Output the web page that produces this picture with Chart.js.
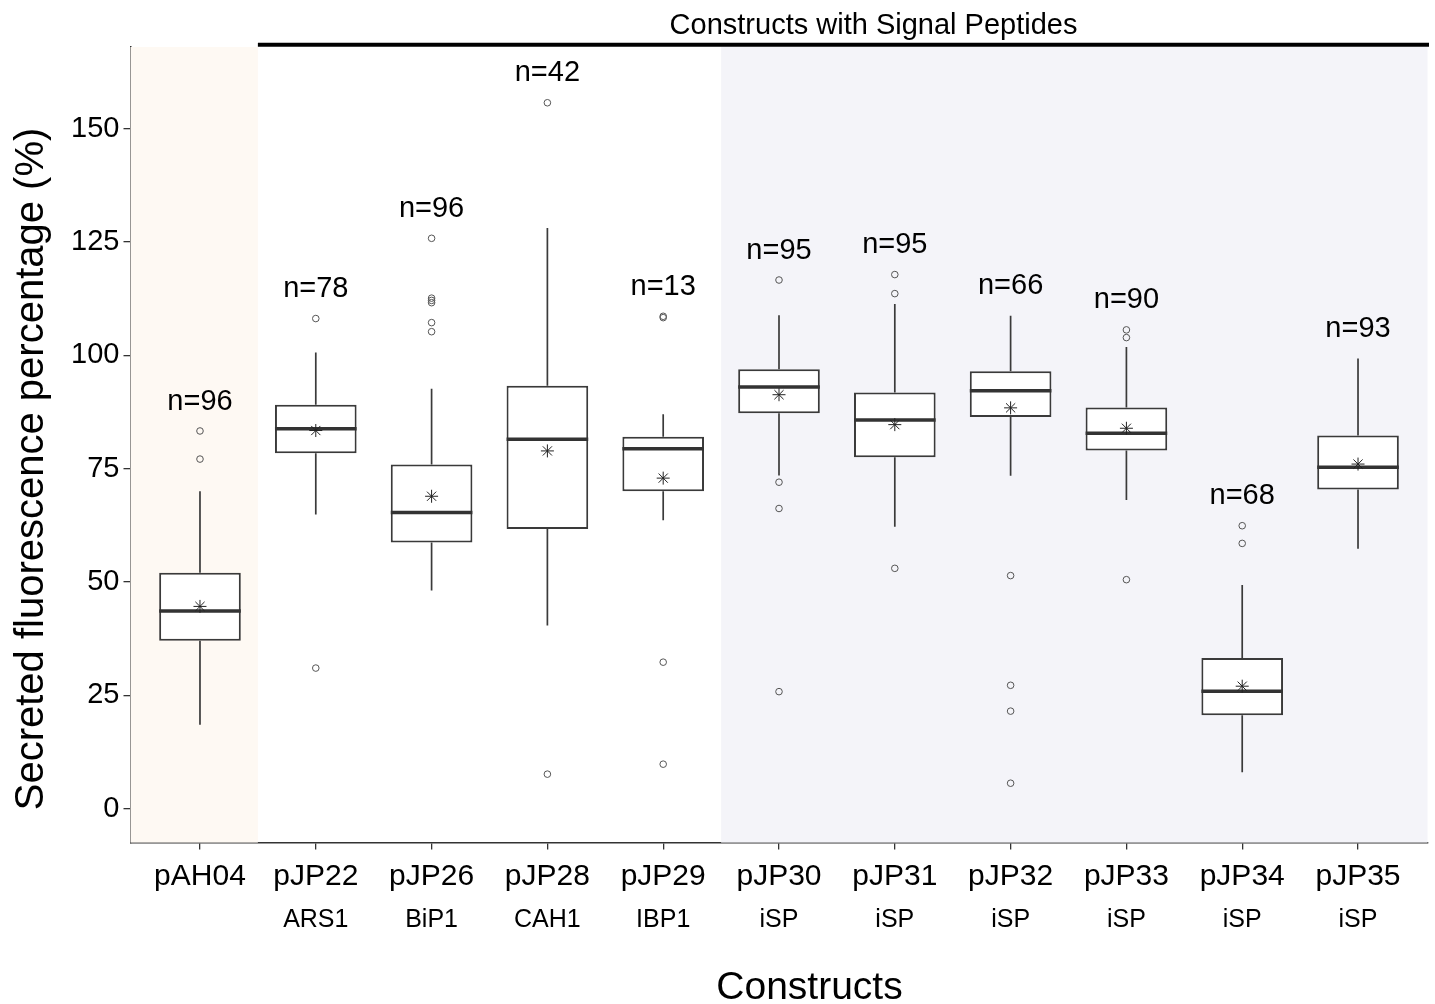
<!DOCTYPE html>
<html>
<head>
<meta charset="utf-8">
<script src="https://cdn.jsdelivr.net/npm/chart.js@4.4.1/dist/chart.umd.min.js"></script>
<style>
  html, body { margin: 0; padding: 0; background: #fff; }
  #boxChart { display: block; }
</style>
</head>
<body>
<canvas id="boxChart" width="1435" height="1004"></canvas>
<script>
// constructs on the x axis, with the signal peptide under each name
const constructs = ['pAH04', 'pJP22', 'pJP26', 'pJP28', 'pJP29', 'pJP30', 'pJP31', 'pJP32', 'pJP33', 'pJP34', 'pJP35'];
const signalPeptides = ['', 'ARS1', 'BiP1', 'CAH1', 'IBP1', 'iSP', 'iSP', 'iSP', 'iSP', 'iSP', 'iSP'];
const sampleSizes = [96, 78, 96, 42, 13, 95, 95, 66, 90, 68, 93];

// box plot summary (%)
const whiskerLow  = [18.5, 64.9, 48.1, 40.4, 63.6, 73.5, 62.2, 73.4, 68.1,  8.0, 57.3];
const q1          = [37.0, 78.4, 58.7, 61.7, 70.0, 87.2, 77.5, 86.4, 79.0, 20.6, 70.4];
const medians     = [43.6, 83.8, 65.3, 81.5, 79.4, 93.0, 85.7, 92.2, 82.8, 25.9, 75.3];
const q3          = [52.0, 89.1, 75.9, 93.3, 82.0, 96.9, 91.8, 96.5, 88.5, 33.2, 82.3];
const whiskerHigh = [70.0, 100.6, 92.6, 128.1, 87.0, 108.8, 111.3, 108.7, 101.8, 49.3, 99.3];
const means       = [44.6, 83.4, 68.9, 78.9, 72.9, 91.3, 84.7, 88.4, 83.9, 27.0, 76.0];
const outliers = [
    [83.3, 77.1],
    [108.1, 31.0],
    [125.8, 112.6, 112.1, 111.6, 107.2, 105.2],
    [155.7, 7.6],
    [108.6, 108.3, 32.3, 9.8],
    [116.6, 72.0, 66.2, 25.8],
    [117.8, 113.6, 53.0],
    [51.4, 27.2, 21.5, 5.6],
    [105.6, 103.9, 50.5],
    [62.4, 58.5],
    []
];

const yTicks = [0, 25, 50, 75, 100, 125, 150];

const FONT = '"Liberation Sans", Arial, Helvetica, sans-serif';
const BOX_FRACTION = 0.705;
const halfBox = BOX_FRACTION / 2;

// datasets built from the arrays above
const boxData = constructs.map((c, i) => ({ x: i, y: [q1[i], q3[i]] }));

const whiskerData = [];
constructs.forEach((c, i) => {
    whiskerData.push({ x: i, y: whiskerLow[i] }, { x: i, y: q1[i] }, { x: i, y: null });
    whiskerData.push({ x: i, y: q3[i] }, { x: i, y: whiskerHigh[i] }, { x: i, y: null });
});

const medianData = [];
constructs.forEach((c, i) => {
    medianData.push({ x: i - halfBox, y: medians[i] }, { x: i + halfBox, y: medians[i] }, { x: i, y: null });
});

const outlierData = [];
outliers.forEach((list, i) => list.forEach(v => outlierData.push({ x: i, y: v })));

const meanData = means.map((m, i) => ({ x: i, y: m }));

// shaded bands behind the boxes
const bandsPlugin = {
    id: 'bands',
    beforeDatasetsDraw(chart) {
        const { ctx, chartArea, scales } = chart;
        const x = scales.x;
        ctx.save();
        ctx.fillStyle = 'rgb(254, 249, 243)';
        ctx.fillRect(chartArea.left, chartArea.top, x.getPixelForValue(0.5) - chartArea.left, chartArea.bottom - chartArea.top);
        ctx.fillStyle = 'rgb(244, 244, 249)';
        const l = x.getPixelForValue(4.5);
        ctx.fillRect(l, chartArea.top, chartArea.right - l, chartArea.bottom - chartArea.top);
        ctx.restore();
    }
};

// n= labels, sub labels, titles and the bracket on top
const annotatePlugin = {
    id: 'annotate',
    afterDraw(chart) {
        const { ctx, chartArea, scales } = chart;
        const x = scales.x, y = scales.y;
        ctx.save();
        ctx.fillStyle = '#000';
        ctx.textAlign = 'center';

        ctx.font = '29px ' + FONT;
        ctx.textBaseline = 'middle';
        constructs.forEach((c, i) => {
            const top = Math.max(whiskerHigh[i], ...outliers[i]);
            ctx.fillText('n=' + sampleSizes[i], x.getPixelForValue(i), y.getPixelForValue(top + 6.5));
        });

        ctx.font = '25px ' + FONT;
        ctx.textBaseline = 'alphabetic';
        signalPeptides.forEach((s, i) => {
            if (s) ctx.fillText(s, x.getPixelForValue(i), 926.5);
        });

        // bracket over the signal peptide constructs
        ctx.strokeStyle = '#000';
        ctx.lineWidth = 4;
        ctx.beginPath();
        ctx.moveTo(x.getPixelForValue(0.5), 44.7);
        ctx.lineTo(chartArea.right + 1.5, 44.7);
        ctx.stroke();
        ctx.font = '29px ' + FONT;
        ctx.fillText('Constructs with Signal Peptides', 873.5, 33.5);

        // axis titles
        ctx.font = '39px ' + FONT;
        ctx.fillText('Constructs', 809.5, 999);
        ctx.translate(43, 469);
        ctx.rotate(-Math.PI / 2);
        ctx.font = '40px ' + FONT;
        ctx.fillText('Secreted fluorescence percentage (%)', 0, 0);
        ctx.restore();
    }
};

const ctx = document.getElementById('boxChart').getContext('2d');
new Chart(ctx, {
    type: 'bar',
    data: {
        datasets: [
            {
                type: 'line',
                data: whiskerData,
                borderColor: '#3a3a3a',
                borderWidth: 1.7,
                pointRadius: 0,
                spanGaps: false,
                order: 5
            },
            {
                type: 'bar',
                data: boxData,
                backgroundColor: '#ffffff',
                borderColor: '#3a3a3a',
                borderWidth: 2,
                borderSkipped: false,
                categoryPercentage: 1,
                barPercentage: BOX_FRACTION,
                order: 4
            },
            {
                type: 'line',
                data: medianData,
                borderColor: '#333333',
                borderWidth: 3.5,
                borderCapStyle: 'butt',
                pointRadius: 0,
                spanGaps: false,
                order: 3
            },
            {
                type: 'scatter',
                data: outlierData,
                pointStyle: 'circle',
                pointRadius: 3.3,
                borderColor: '#555555',
                borderWidth: 1,
                backgroundColor: 'rgba(0,0,0,0)',
                order: 2
            },
            {
                type: 'scatter',
                data: meanData,
                pointStyle: 'star',
                pointRadius: 6.5,
                borderColor: '#222222',
                borderWidth: 1,
                order: 1
            }
        ]
    },
    options: {
        responsive: false,
        animation: false,
        devicePixelRatio: 1,
        layout: { padding: { top: 47, right: 3.7, left: 0, bottom: 0 } },
        plugins: {
            legend: { display: false },
            tooltip: { enabled: false }
        },
        scales: {
            x: {
                type: 'linear',
                min: -0.6,
                max: 10.6,
                bounds: 'data',
                offset: false,
                afterBuildTicks: (scale) => { scale.ticks = constructs.map((c, i) => ({ value: i })); },
                afterFit: (scale) => { scale.height = 161.4; },
                ticks: {
                    autoSkip: false,
                    maxRotation: 0,
                    padding: 9,
                    color: '#000',
                    font: { family: FONT, size: 30 },
                    callback: (v) => constructs[v]
                },
                grid: { offset: false, drawOnChartArea: false, drawTicks: true, tickLength: 7, color: '#333', lineWidth: 1.3 },
                border: { display: true, color: '#333', width: 1.5 }
            },
            y: {
                type: 'linear',
                min: -7.5,
                max: 168,
                bounds: 'data',
                afterBuildTicks: (scale) => { scale.ticks = yTicks.map(v => ({ value: v })); },
                afterFit: (scale) => { scale.width = 130.5; },
                ticks: {
                    padding: 4,
                    color: '#000',
                    font: { family: FONT, size: 29 }
                },
                grid: { drawOnChartArea: false, drawTicks: true, tickLength: 7, color: '#333', lineWidth: 1.3 },
                border: { display: true, color: '#333', width: 1.5 }
            }
        }
    },
    plugins: [bandsPlugin, annotatePlugin]
});
</script>
</body>
</html>
